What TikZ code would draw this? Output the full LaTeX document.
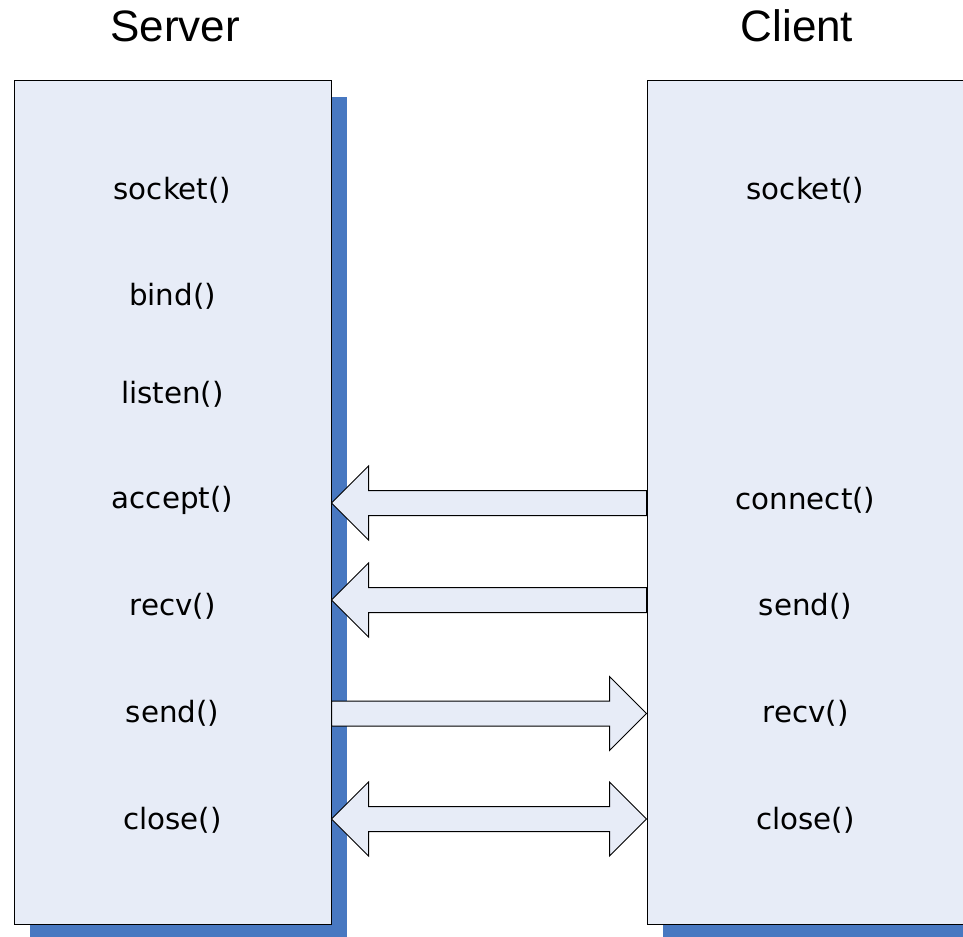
\documentclass[tikz,border=0pt]{standalone}
\usepackage{fontspec}
\setmainfont{DejaVu Sans}
\newfontfamily\titlefont{Liberation Sans}
\usepackage{tikz}
\usetikzlibrary{calc,shadows}

\definecolor{panelfill}{RGB}{231,236,247}
\definecolor{shadowblue}{RGB}{72,120,193}

\tikzset{
  panel/.style={draw=black, line width=0.75pt, fill=panelfill, minimum width=237.75pt, minimum height=632.25pt, inner sep=0pt,
    drop shadow={shadow xshift=12pt, shadow yshift=-12pt, fill=shadowblue, opacity=1}},
  blockarrow/.style={draw=black, line width=0.75pt, fill=panelfill, line join=miter},
  title/.style={anchor=base, inner sep=0.75pt, font=\titlefont\fontsize{33}{33}\selectfont},
  call/.style={inner sep=0.75pt, font=\fontsize{22}{22}\selectfont}
}

\begin{document}
\begin{tikzpicture}[x=0.75pt,y=0.75pt,yscale=-1,xscale=1]
\useasboundingbox (0,0) rectangle (963,937);
\clip (0,0) rectangle (963,937);

% Boxes
\node[panel] (server) at (172.5,502.5) {};
\node[panel] (client) at (805.5,502.5) {};

% Rows of the arrows
\coordinate (r accept) at (0,503);
\coordinate (r recv) at (0,600);
\coordinate (r send) at (0,713.5);
\coordinate (r close) at (0,819);

%Block Arrow: connect() to accept()
\draw[blockarrow] (server.east |- r accept) -- ++(37,-37) -- ++(0,24.5) -- ($(client.west |- r accept)+(0,-12.5)$) -- ++(0,25) -- ($(server.east |- r accept)+(37,12.5)$) -- ++(0,24.5) -- cycle;
%Block Arrow: send() to recv()
\draw[blockarrow] (server.east |- r recv) -- ++(37,-37) -- ++(0,24.5) -- ($(client.west |- r recv)+(0,-12.5)$) -- ++(0,25) -- ($(server.east |- r recv)+(37,12.5)$) -- ++(0,24.5) -- cycle;
%Block Arrow: send() to recv()
\draw[blockarrow] ($(server.east |- r send)+(0,-12.5)$) -- ($(client.west |- r send)+(-37,-12.5)$) -- ++(0,-24.5) -- (client.west |- r send) -- ++(-37,37) -- ++(0,-24.5) -- ($(server.east |- r send)+(0,12.5)$) -- cycle;
%Block Arrow: close() both ways
\draw[blockarrow] (server.east |- r close) -- ++(37,-37) -- ++(0,24.5) -- ($(client.west |- r close)+(-37,-12.5)$) -- ++(0,-24.5) -- (client.west |- r close) -- ++(-37,37) -- ++(0,-24.5) -- ($(server.east |- r close)+(37,12.5)$) -- ++(0,24.5) -- cycle;

% Text Node
\node[title] (server title) at (175,42) {Server};
% Text Node
\node[title] (client title) at (797,42) {Client};

% Text Node
\node[call] (s socket) at (172.5,190) {socket()};
% Text Node
\node[call] (s bind) at (172.5,296) {bind()};
% Text Node
\node[call] (s listen) at (172.5,394) {listen()};
% Text Node
\node[call] (s accept) at (172.5,500) {accept()};
% Text Node
\node[call] (s recv) at (172.5,606) {recv()};
% Text Node
\node[call] (s send) at (172.5,713) {send()};
% Text Node
\node[call] (s close) at (172.5,820) {close()};

% Text Node
\node[call] (c socket) at (805.5,190) {socket()};
% Text Node
\node[call] (c connect) at (805.5,500) {connect()};
% Text Node
\node[call] (c send) at (805.5,606) {send()};
% Text Node
\node[call] (c recv) at (805.5,713) {recv()};
% Text Node
\node[call] (c close) at (805.5,820) {close()};

\end{tikzpicture}
\end{document}
